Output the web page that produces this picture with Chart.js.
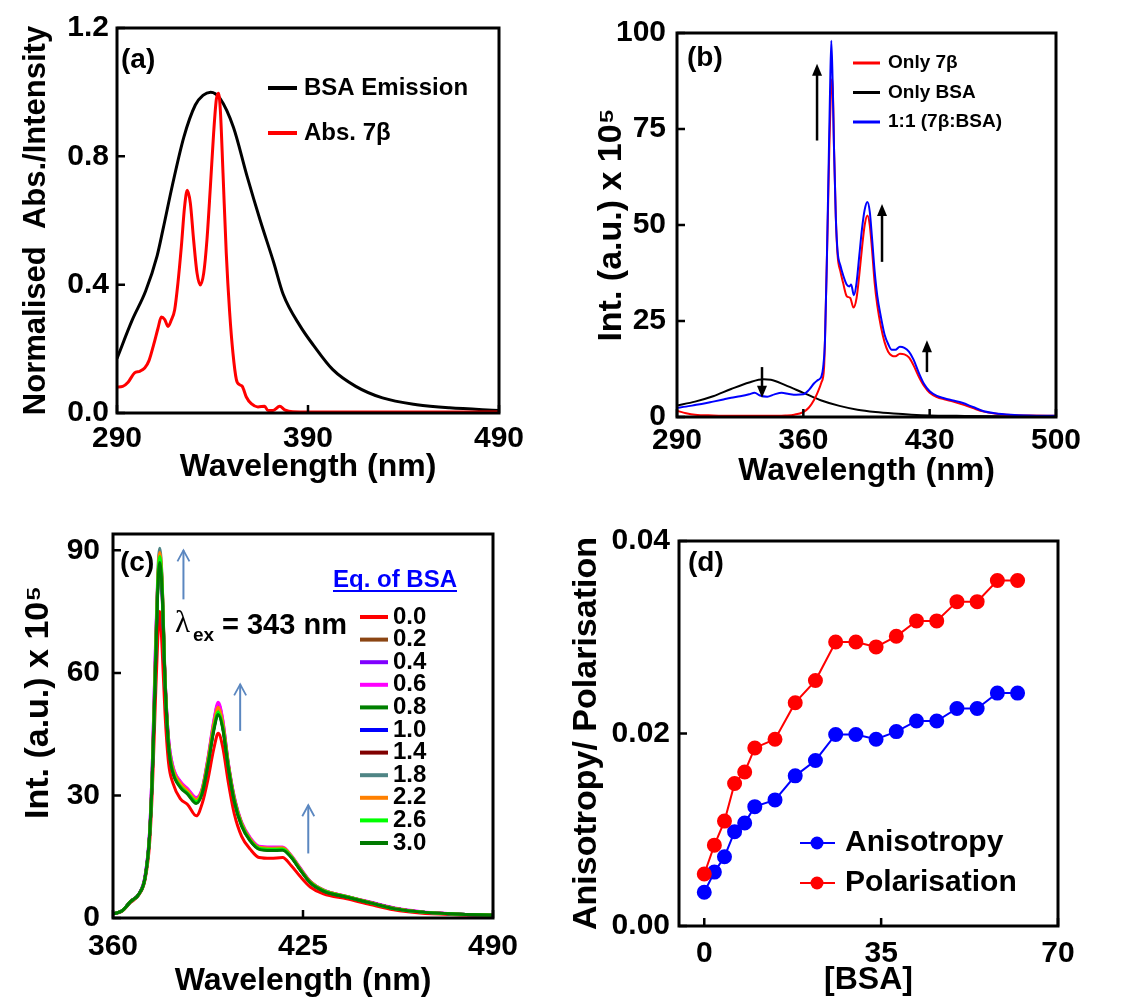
<!DOCTYPE html>
<html>
<head>
<meta charset="utf-8">
<script src="https://cdn.jsdelivr.net/npm/chart.js@4.4.1/dist/chart.umd.min.js"></script>
<style>
  html, body { margin: 0; padding: 0; background: #fff; }
  #wrap { position: relative; width: 1124px; height: 997px; overflow: hidden; }
  #wrap canvas { position: absolute; }
</style>
</head>
<body>
<div id="wrap">
  <canvas id="chartA" width="560" height="495" style="left:0;top:0"></canvas>
  <canvas id="chartB" width="564" height="495" style="left:560px;top:0"></canvas>
  <canvas id="chartC" width="560" height="502" style="left:0;top:495px"></canvas>
  <canvas id="chartD" width="564" height="502" style="left:560px;top:495px"></canvas>
</div>
<script>
// (a) normalised BSA emission and 7b absorption
const lamBsaA = [290, 298, 305, 311, 314, 319, 325, 331, 335, 339, 344, 351, 358, 365, 372, 377, 386, 393, 403, 415, 429, 447, 464, 490];
const bsaEmission = [0.17, 0.29, 0.38, 0.49, 0.57, 0.71, 0.86, 0.96, 0.99, 1.0, 0.98, 0.89, 0.74, 0.60, 0.47, 0.37, 0.27, 0.21, 0.135, 0.083, 0.047, 0.026, 0.016, 0.008];
const lamAbsA = [290, 293, 295.8, 299.2, 301.9, 304.5, 306.8, 309.2, 311.5, 313.2, 315, 316.7, 318.4, 320.2, 321.9, 323.7, 325.4, 326.8, 328.4, 330.1, 331.9, 333.6, 335.4, 337.1, 338.9, 340.6, 342, 343.1, 344.1, 345.5, 347.2, 349, 350.7, 352.5, 354.2, 355.6, 357.7, 360.3, 363.8, 367.3, 369, 371.7, 375.2, 377.8, 382.1, 403, 490];
const abs7b = [0.081, 0.083, 0.096, 0.125, 0.130, 0.140, 0.164, 0.213, 0.265, 0.299, 0.291, 0.270, 0.289, 0.322, 0.405, 0.519, 0.644, 0.694, 0.654, 0.540, 0.436, 0.399, 0.436, 0.540, 0.706, 0.873, 0.977, 0.997, 0.945, 0.748, 0.499, 0.312, 0.187, 0.104, 0.088, 0.083, 0.050, 0.029, 0.019, 0.021, 0.008, 0.008, 0.021, 0.010, 0.004, 0.003, 0.003];

// (b) emission spectra
const lamRedB = [290, 295, 300, 310, 320, 330, 340, 350, 355, 360, 363, 366, 368, 370, 371.5, 372.5, 373.5, 374.5, 375.5, 376.2, 377, 378, 379, 380.5, 382, 384, 386, 387.8, 389.5, 391, 392.5, 394, 395.5, 396.8, 398, 399.5, 401, 403, 405, 407, 409, 411, 413.5, 416, 418.5, 421, 424, 427, 430, 434, 438, 443, 448, 454, 460, 466, 475, 485, 500];
const only7b = [1.6, 1.0, 0.6, 0.4, 0.3, 0.3, 0.3, 0.4, 0.6, 1.3, 2.4, 4.5, 6.5, 9.0, 13, 30, 50, 72, 86, 88, 70, 52, 42, 38, 35, 31.5, 31, 28.5, 31, 37, 44, 50, 52.5, 50, 44, 35, 29, 23.5, 19.5, 17, 16, 15.8, 16.5, 16.3, 15.5, 13.5, 10.5, 8, 6.3, 5.2, 4.6, 4.0, 3.3, 2.3, 1.4, 0.9, 0.5, 0.4, 0.3];
const lamBsaB = [290, 300, 310, 320, 330, 338, 342, 350, 360, 370, 380, 390, 400, 410, 420, 430, 445, 470, 500];
const onlyBsa = [3.0, 4.0, 5.4, 7.3, 9.0, 9.8, 9.7, 8.3, 6.3, 4.3, 2.9, 1.9, 1.3, 0.9, 0.6, 0.4, 0.3, 0.2, 0.2];
const lamBlueB = [290, 295, 300, 305, 310, 315, 320, 325, 330, 333, 336, 340, 344, 348, 352, 356, 360, 363, 366, 368, 370, 371, 372, 373, 374, 374.8, 375.5, 376.2, 377, 378, 379, 380.5, 382, 384, 385.5, 386.5, 388, 389.5, 391, 392.5, 394, 395.5, 396.8, 398, 399.5, 401, 403, 405, 407, 409, 411, 413.5, 416, 418.5, 421, 424, 427, 430, 434, 438, 443, 448, 454, 460, 466, 475, 485, 500];
const mix1to1 = [2.4, 2.7, 3.1, 3.5, 4.0, 4.5, 5.0, 5.4, 5.9, 6.3, 5.6, 5.3, 5.9, 6.3, 6.0, 5.8, 5.9, 7.0, 8.8, 9.6, 10.5, 13, 20, 40, 65, 85, 98, 88, 70, 52, 43, 39.5, 37, 34.5, 34, 34.5, 31.7, 35, 42, 49, 54, 56, 53.5, 47, 38, 31.5, 26, 21.5, 19, 17.5, 17.5, 18.3, 18.0, 17, 15, 11.5, 8.5, 6.7, 5.5, 4.9, 4.3, 3.7, 2.6, 1.5, 1.0, 0.6, 0.4, 0.3];
const arrowsB = [[367.6, 72, 92], [403.6, 40.4, 55.5], [428.5, 11.7, 20], [337.1, 13, 5]];

// (c) titration with BSA
const lamC = [360, 363, 366, 369, 371, 372.5, 373.5, 374.5, 375.3, 376, 376.8, 377.8, 379, 380.5, 383, 385.5, 388.5, 390.5, 392.5, 394.5, 396, 397.5, 399.5, 401.5, 404, 407, 410, 414, 418, 421, 424, 427.5, 432, 440, 448, 456, 465, 477, 490];
const eqLabels = ['0.0', '0.2', '0.4', '0.6', '0.8', '1.0', '1.4', '1.8', '2.2', '2.6', '3.0'];
const eqColors = ['#ff0000', '#8b4513', '#8000ff', '#ff00ff', '#008000', '#0000ff', '#800000', '#4f8585', '#ff8000', '#00ff00', '#007a00'];
const eq00 = [1.0, 1.6, 3.8, 5.8, 9.5, 18, 32, 53, 68, 75, 66, 50, 38, 33, 29.2, 27.8, 25, 28, 34, 41.5, 45.2, 42, 33, 25.5, 20, 16.8, 14.8, 14.6, 14.8, 12.8, 10.2, 7.6, 5.9, 4.7, 3.3, 2.0, 1.2, 0.8, 0.6];
const eq02 = [1.0, 1.7, 4.0, 6.0, 10, 20, 37, 62, 80, 86, 79, 58, 43, 36.5, 32.8, 31, 28.8, 31, 38.5, 47, 51.2, 47.5, 37, 29, 23, 19.2, 17.2, 17, 17, 15, 12, 8.8, 6.7, 5.2, 3.8, 2.4, 1.5, 1.0, 0.7];
const eq04 = [1.0, 1.7, 4.1, 6.1, 10.5, 21, 39, 65, 81, 85, 79, 59, 44, 37, 33.3, 31.5, 29.3, 31.5, 39, 48, 52.4, 48.5, 37.5, 29.5, 23.3, 19.4, 17.4, 17.2, 17.2, 15.2, 12.2, 8.9, 6.8, 5.3, 3.8, 2.4, 1.5, 1.0, 0.7];
const eq06 = [1.0, 1.7, 4.1, 6.1, 10.5, 21, 39, 66, 82, 86.5, 80, 59, 44, 37.2, 33.5, 31.7, 29.5, 31.7, 39.3, 48.4, 52.8, 48.8, 37.8, 29.7, 23.5, 19.6, 17.6, 17.4, 17.4, 15.3, 12.3, 9.0, 6.9, 5.3, 3.9, 2.5, 1.6, 1.0, 0.7];
const eq08 = [1.0, 1.7, 4.0, 6.0, 10, 20, 36, 61, 81, 87.5, 81, 58, 42.5, 35.8, 32.2, 30.5, 28.3, 30.7, 37.8, 46.3, 50.2, 46.8, 36.8, 28.7, 22.7, 18.9, 17, 16.7, 16.8, 14.9, 11.9, 8.7, 6.6, 5.1, 3.7, 2.3, 1.5, 1.0, 0.7];
const eq10 = [1.0, 1.7, 4.0, 6.0, 10, 20, 36, 61, 81, 88, 81, 58, 42.7, 36, 32.4, 30.6, 28.5, 30.9, 38, 46.6, 50.6, 47.1, 37, 28.9, 22.9, 19, 17.1, 16.8, 16.9, 15, 12, 8.8, 6.7, 5.2, 3.8, 2.4, 1.5, 1.0, 0.7];
const eq14 = [1.0, 1.7, 4.0, 6.0, 10, 20, 36, 62, 82, 88.5, 82, 58.5, 42.8, 36.1, 32.5, 30.7, 28.6, 31, 38.2, 46.8, 50.8, 47.3, 37.1, 29, 23, 19.1, 17.2, 16.9, 17, 15, 12, 8.8, 6.7, 5.2, 3.8, 2.4, 1.5, 1.0, 0.7];
const eq18 = [1.0, 1.7, 4.0, 6.0, 10, 20, 37, 63, 84, 90.5, 83, 59, 43, 36.4, 32.8, 31, 28.9, 31.2, 38.5, 47.2, 51.2, 47.6, 37.3, 29.1, 23.1, 19.2, 17.3, 17, 17.1, 15.1, 12.1, 8.9, 6.8, 5.2, 3.8, 2.4, 1.5, 1.0, 0.7];
const eq22 = [1.0, 1.7, 4.0, 6.0, 10, 20, 37, 63, 83, 89.5, 82.5, 59, 43.2, 36.6, 33, 31.2, 29, 31.4, 38.8, 47.6, 51.6, 48, 37.5, 29.3, 23.2, 19.3, 17.3, 17.1, 17.2, 15.2, 12.1, 8.9, 6.8, 5.3, 3.8, 2.4, 1.5, 1.0, 0.7];
const eq26 = [1.0, 1.7, 4.0, 6.0, 10, 20, 36, 62, 82, 88.5, 81.5, 58, 42.6, 35.9, 32.3, 30.6, 28.5, 30.8, 37.9, 46.4, 50.4, 47, 36.9, 28.8, 22.8, 19, 17.1, 16.8, 16.9, 15, 11.9, 8.7, 6.7, 5.2, 3.7, 2.3, 1.5, 1.0, 0.7];
const eq30 = [1.0, 1.7, 4.0, 6.0, 10, 20, 36, 60, 80, 87, 80, 58, 42, 35.5, 32, 30.3, 28, 30.5, 37.5, 46, 49.8, 46.5, 36.5, 28.5, 22.5, 18.8, 16.8, 16.5, 16.6, 14.8, 11.8, 8.6, 6.6, 5.1, 3.7, 2.3, 1.5, 1.0, 0.7];
const eqSeries = [eq00, eq02, eq04, eq06, eq08, eq10, eq14, eq18, eq22, eq26, eq30];
const arrowsC = [[384.1, 78, 90], [403.5, 45.8, 57.2], [426.8, 15.8, 27.6]];

// (d) anisotropy / polarisation vs [BSA]
const bsaConc = [0, 2, 4, 6, 8, 10, 14, 18, 22, 26, 30, 34, 38, 42, 46, 50, 54, 58, 62];
const anisotropy = [0.0035, 0.0056, 0.0072, 0.0098, 0.0107, 0.0124, 0.0131, 0.0156, 0.0172, 0.0199, 0.0199, 0.0194, 0.0202, 0.0213, 0.0213, 0.0226, 0.0226, 0.0242, 0.0242];
const polarisation = [0.0054, 0.0084, 0.0109, 0.0148, 0.0160, 0.0185, 0.0194, 0.0232, 0.0255, 0.0295, 0.0295, 0.0290, 0.0301, 0.0317, 0.0317, 0.0337, 0.0337, 0.0359, 0.0359];

const FONT = '"Liberation Sans", Arial, sans-serif';
Chart.defaults.font.family = FONT;
Chart.defaults.font.weight = 'bold';
Chart.defaults.font.size = 30;
Chart.defaults.color = '#000';
Chart.defaults.animation = false;
Chart.defaults.plugins.legend.display = false;
Chart.defaults.plugins.tooltip.enabled = false;

const xy = (xs, ys) => xs.map((x, i) => ({ x, y: ys[i] }));

// closed frame with inward ticks
const frame = {
  id: 'frame',
  afterDatasetsDraw(chart) {
    const { ctx, chartArea: a, scales: { x, y } } = chart;
    ctx.save();
    ctx.strokeStyle = '#000';
    ctx.lineWidth = 2.5;
    ctx.beginPath();
    x.ticks.forEach(t => {
      const p = x.getPixelForValue(t.value);
      ctx.moveTo(p, a.bottom); ctx.lineTo(p, a.bottom - 8);
    });
    y.ticks.forEach(t => {
      const p = y.getPixelForValue(t.value);
      ctx.moveTo(a.left, p); ctx.lineTo(a.left + 8, p);
    });
    ctx.stroke();
    ctx.lineWidth = 3;
    ctx.strokeRect(a.left, a.top, a.width, a.height);
    ctx.restore();
  }
};

function text(ctx, s, x, y, size, opts = {}) {
  ctx.font = `${opts.weight || 'bold'} ${size}px ${opts.family || FONT}`;
  ctx.fillStyle = opts.color || '#000';
  ctx.textAlign = 'left';
  ctx.textBaseline = 'middle';
  ctx.fillText(s, x, y);
  return ctx.measureText(s).width;
}

function legendLines(ctx, sets, x0, x1, tx, yAt, size, lw) {
  sets.forEach((d, i) => {
    ctx.strokeStyle = d.borderColor;
    ctx.lineWidth = lw;
    ctx.beginPath(); ctx.moveTo(x0, yAt(i)); ctx.lineTo(x1, yAt(i)); ctx.stroke();
    text(ctx, d.label, tx, yAt(i), size);
  });
}

function arrow(ctx, chart, a, color, filled, lw) {
  const X = chart.scales.x, Y = chart.scales.y;
  const px = X.getPixelForValue(a[0]), p0 = Y.getPixelForValue(a[1]), p1 = Y.getPixelForValue(a[2]);
  const dir = p1 < p0 ? 1 : -1;
  ctx.save();
  ctx.strokeStyle = color; ctx.fillStyle = color; ctx.lineWidth = lw;
  ctx.beginPath();
  ctx.moveTo(px, p0); ctx.lineTo(px, filled ? p1 + dir * 8 : p1); ctx.stroke();
  ctx.beginPath();
  if (filled) {
    ctx.moveTo(px, p1); ctx.lineTo(px - 5, p1 + dir * 12); ctx.lineTo(px + 5, p1 + dir * 12); ctx.closePath(); ctx.fill();
  } else {
    ctx.lineWidth = 1.8;
    ctx.moveTo(px - 6, p1 + dir * 11); ctx.lineTo(px, p1); ctx.lineTo(px + 6, p1 + dir * 11); ctx.stroke();
  }
  ctx.restore();
}

function axes(o) {
  return {
    x: {
      type: 'linear', min: o.xmin, max: o.xmax,
      afterFit: s => { s.height = o.xh; },
      grid: { display: false }, border: { display: false },
      ticks: { stepSize: o.xstep, padding: o.xpad, includeBounds: false, autoSkip: false, maxRotation: 0, callback: v => v },
      title: { display: true, text: o.xtitle, font: { size: 32, weight: 'bold', lineHeight: 1 }, padding: { top: 0, bottom: o.xtpad } }
    },
    y: {
      type: 'linear', min: o.ymin, max: o.ymax,
      afterFit: s => { s.width = o.yw; },
      grid: { display: false }, border: { display: false },
      ticks: { stepSize: o.ystep, padding: o.ypad, includeBounds: false, autoSkip: false, callback: o.yfmt },
      title: { display: true, text: o.ytitle, font: { size: o.ytsize, weight: 'bold', lineHeight: 1 }, padding: { top: o.ytpad, bottom: 0 } }
    }
  };
}

function makeChart(id, datasets, o, notes) {
  return new Chart(document.getElementById(id), {
    type: 'line',
    data: { datasets },
    options: {
      responsive: false,
      events: [],
      layout: { padding: { top: o.top, right: o.right, left: 0, bottom: 0 } },
      elements: { point: { radius: 0 }, line: { cubicInterpolationMode: 'monotone' } },
      scales: axes(o)
    },
    plugins: [frame, { id: 'notes', afterDraw: notes }]
  });
}

// panel (a)
makeChart('chartA', [
  { label: 'BSA Emission', data: xy(lamBsaA, bsaEmission), borderColor: '#000', borderWidth: 3, order: 1 },
  { label: 'Abs. 7\u03b2', data: xy(lamAbsA, abs7b), borderColor: '#ff0000', borderWidth: 3, order: 0 }
], {
  top: 28, right: 61, xh: 82, yw: 117,
  xmin: 290, xmax: 490, xstep: 100, xpad: 0, xtitle: 'Wavelength (nm)', xtpad: 12,
  ymin: 0, ymax: 1.2, ystep: 0.4, ypad: 0, yfmt: v => v.toFixed(1),
  ytitle: 'Normalised  Abs./Intensity', ytsize: 31, ytpad: 21
}, chart => {
  const ctx = chart.ctx;
  text(ctx, '(a)', 121, 60, 28);
  legendLines(ctx, chart.data.datasets, 268, 297, 304, i => 88 + i * 45, 24, 4);
});

// panel (b)
makeChart('chartB', [
  { label: 'Only 7\u03b2', data: xy(lamRedB, only7b), borderColor: '#ff0000', borderWidth: 2, order: 1 },
  { label: 'Only BSA', data: xy(lamBsaB, onlyBsa), borderColor: '#000', borderWidth: 2, order: 2 },
  { label: '1:1 (7\u03b2:BSA)', data: xy(lamBlueB, mix1to1), borderColor: '#0000ff', borderWidth: 2, order: 0 }
], {
  top: 33, right: 68, xh: 78, yw: 117,
  xmin: 290, xmax: 500, xstep: 70, xpad: -2, xtitle: 'Wavelength (nm)', xtpad: 8,
  ymin: 0, ymax: 100, ystep: 25, ypad: 3, yfmt: v => v,
  ytitle: 'Int. (a.u.) x 10\u2075', ytsize: 34, ytpad: 35
}, chart => {
  const ctx = chart.ctx;
  text(ctx, '(b)', 127, 58, 28);
  legendLines(ctx, chart.data.datasets, 293, 320, 328, i => 63 + i * 29.5, 19, 3);
  arrowsB.forEach(a => arrow(ctx, chart, a, '#000', true, 2.5));
});

// panel (c)
makeChart('chartC', eqSeries.map((s, i) => ({
  label: eqLabels[i], data: xy(lamC, s), borderColor: eqColors[i], borderWidth: 3, order: 10 - i
})), {
  top: 39, right: 67, xh: 79, yw: 113,
  xmin: 360, xmax: 490, xstep: 65, xpad: 3, xtitle: 'Wavelength (nm)', xtpad: 0,
  ymin: 0, ymax: 94, ystep: 30, ypad: 5, yfmt: v => v,
  ytitle: '     Int. (a.u.) x 10\u2075', ytsize: 34, ytpad: 22
}, chart => {
  const ctx = chart.ctx;
  text(ctx, '(c)', 120, 68, 28);
  const w = text(ctx, 'Eq. of BSA', 333, 85, 24, { color: '#0000ff' });
  ctx.strokeStyle = '#0000ff'; ctx.lineWidth = 2;
  ctx.beginPath(); ctx.moveTo(333, 96); ctx.lineTo(333 + w, 96); ctx.stroke();
  legendLines(ctx, chart.data.datasets, 360, 388, 393, i => 122 + i * 22.6, 24, 4);
  text(ctx, '\u03bb', 175, 129, 31, { weight: 'normal', family: '"Liberation Serif", serif' });
  text(ctx, 'ex', 193, 141, 19);
  text(ctx, '= 343 nm', 222, 131, 29);
  arrowsC.forEach(a => arrow(ctx, chart, a, '#5b87c0', false, 2));
});

// panel (d)
new Chart(document.getElementById('chartD'), {
  type: 'line',
  data: {
    datasets: [
      { label: 'Anisotropy', data: xy(bsaConc, anisotropy), borderColor: '#0000ff', backgroundColor: '#0000ff', borderWidth: 2, pointRadius: 6.5, order: 1 },
      { label: 'Polarisation', data: xy(bsaConc, polarisation), borderColor: '#ff0000', backgroundColor: '#ff0000', borderWidth: 2, pointRadius: 6.5, order: 0 }
    ]
  },
  options: {
    responsive: false,
    events: [],
    layout: { padding: { top: 46, right: 66, left: 0, bottom: 0 } },
    scales: axes({
      xh: 71, yw: 119,
      xmin: -5, xmax: 70, xstep: 35, xpad: 2, xtitle: '[BSA]', xtpad: 1,
      ymin: 0, ymax: 0.04, ystep: 0.02, ypad: 1, yfmt: v => v.toFixed(2),
      ytitle: 'Anisotropy/ Polarisation', ytsize: 34, ytpad: 10
    })
  },
  plugins: [frame, { id: 'notes', afterDraw(chart) {
    const ctx = chart.ctx;
    text(ctx, '(d)', 128, 68, 28);
    chart.data.datasets.forEach((d, i) => {
      const y = 348 + i * 40;
      ctx.strokeStyle = d.borderColor; ctx.fillStyle = d.backgroundColor; ctx.lineWidth = 2;
      ctx.beginPath(); ctx.moveTo(240, y); ctx.lineTo(275, y); ctx.stroke();
      ctx.beginPath(); ctx.arc(257, y, 6.5, 0, Math.PI * 2); ctx.fill();
      text(ctx, d.label, 285, y, 30);
    });
  } }]
});
</script>
</body>
</html>
